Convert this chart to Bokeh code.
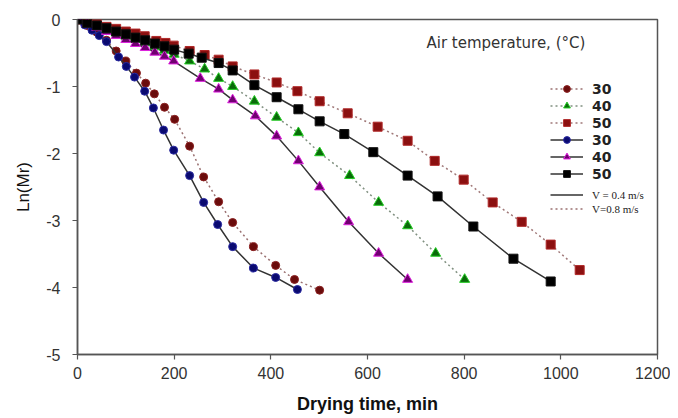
from bokeh.plotting import figure
from bokeh.models import Range1d, Legend, LegendItem, Label, FixedTicker
from bokeh.embed import file_html
from bokeh.resources import INLINE

# ---------------- data ----------------
x_ticks = [0, 200, 400, 600, 800, 1000, 1200]
y_ticks = [-5, -4, -3, -2, -1, 0]

# V = 0.8 m/s (dotted)
t_030_08 = [0, 20, 40, 60, 80, 100, 122, 141, 159, 180, 201, 232, 261, 292, 321, 364, 410, 449, 501]
v_030_08 = [0, -0.09, -0.19, -0.31, -0.47, -0.62, -0.80, -0.95, -1.11, -1.31, -1.49, -1.89, -2.35, -2.72,
            -3.03, -3.39, -3.67, -3.88, -4.04]

t_040_08 = [0, 20, 40, 60, 80, 100, 120, 140, 160, 180, 200, 232, 263, 292, 321, 366, 412, 457, 501,
            563, 623, 683, 741, 801]
v_040_08 = [0, -0.05, -0.10, -0.15, -0.20, -0.25, -0.30, -0.35, -0.41, -0.46, -0.52, -0.62, -0.74, -0.88,
            -1.00, -1.22, -1.46, -1.69, -1.99, -2.33, -2.73, -3.08, -3.49, -3.88]

t_050_08 = [0, 20, 40, 60, 80, 100, 120, 139, 163, 182, 199, 232, 263, 292, 321, 366, 412, 455, 501,
            559, 621, 683, 739, 799, 859, 919, 979, 1039]
v_050_08 = [0, -0.04, -0.07, -0.11, -0.14, -0.18, -0.21, -0.25, -0.32, -0.35, -0.39, -0.47, -0.53, -0.60,
            -0.70, -0.82, -0.94, -1.07, -1.22, -1.40, -1.60, -1.81, -2.11, -2.39, -2.73, -3.02, -3.36, -3.74]

# V = 0.4 m/s (solid)
t_030_04 = [0, 15, 30, 45, 60, 85, 101, 118, 139, 157, 178, 199, 232, 261, 290, 321, 364, 410, 455]
v_030_04 = [0, -0.08, -0.16, -0.24, -0.33, -0.56, -0.70, -0.86, -1.07, -1.32, -1.65, -1.95, -2.33, -2.73,
            -3.06, -3.39, -3.71, -3.85, -4.03]

t_040_04 = [0, 20, 40, 60, 80, 100, 120, 140, 160, 180, 199, 254, 292, 321, 368, 412, 457, 501, 561, 623, 683]
v_040_04 = [0, -0.06, -0.12, -0.18, -0.24, -0.30, -0.36, -0.42, -0.49, -0.55, -0.62, -0.88, -1.04, -1.20,
            -1.44, -1.74, -2.11, -2.50, -3.02, -3.49, -3.88]

t_050_04 = [0, 20, 40, 60, 80, 100, 120, 140, 160, 180, 200, 230, 257, 292, 321, 366, 412, 457, 501, 552,
            612, 683, 745, 819, 902, 979]
v_050_04 = [0, -0.05, -0.09, -0.13, -0.18, -0.22, -0.27, -0.31, -0.36, -0.40, -0.45, -0.51, -0.57, -0.65,
            -0.76, -0.98, -1.16, -1.34, -1.52, -1.71, -1.98, -2.33, -2.64, -3.09, -3.57, -3.91]

legend_labels = ["30", "40", "50", "30", "40", "50"]
speed_labels = ["V = 0.4 m/s", "V=0.8 m/s"]
legend_title = "Air temperature, (\u00b0C)"

# ---------------- figure ----------------
p = figure(width=670, height=416, x_range=Range1d(0, 1200), y_range=Range1d(-5, 0),
           output_backend="svg", toolbar_location=None,
           min_border_left=77, min_border_right=13, min_border_top=19, min_border_bottom=61)
p.xgrid.visible = False
p.ygrid.visible = False
p.outline_line_color = "#555555"
p.outline_line_width = 1.5
p.background_fill_color = "white"
p.border_fill_color = "white"

for ax in (p.xaxis[0], p.yaxis[0]):
    ax.axis_line_color = "#555555"
    ax.axis_line_width = 1.5
    ax.major_tick_line_color = "#555555"
    ax.major_tick_line_width = 1.2
    ax.major_tick_in = 0
    ax.major_tick_out = 5
    ax.minor_tick_line_color = None
    ax.major_label_text_font = "Liberation Sans"
    ax.major_label_text_font_size = "16px"
    ax.major_label_text_color = "#333333"
    ax.axis_label_text_font = "Liberation Sans"
    ax.axis_label_text_color = "#111111"

p.xaxis.ticker = FixedTicker(ticks=x_ticks)
p.yaxis.ticker = FixedTicker(ticks=y_ticks)
p.xaxis.major_label_overrides = {t: str(t) for t in x_ticks}
p.yaxis.major_label_overrides = {t: str(t) for t in y_ticks}
p.xaxis.major_label_standoff = 7
p.yaxis.major_label_standoff = 12

p.xaxis.axis_label = "Drying time, min"
p.xaxis.axis_label_text_font_size = "18px"
p.xaxis.axis_label_text_font_style = "bold"
p.xaxis.axis_label_standoff = 12
p.yaxis.axis_label = "Ln(Mr)"
p.yaxis.axis_label_text_font_size = "17px"
p.yaxis.axis_label_text_font_style = "normal"
p.yaxis.axis_label_standoff = 10

DOT = "2 3"


def series(t, v, dash, line_color, marker, size, fill, edge):
    lr = p.line(t, v, line_color=line_color, line_width=1.5, line_dash=dash)
    sr = p.scatter(t, v, marker=marker, size=size, fill_color=fill, line_color=edge, line_width=1)
    return lr, sr


r1 = series(t_030_08, v_030_08, DOT, "#9a7070", "circle", 8, "#6a0c0c", "#8a2020")
r2 = series(t_040_08, v_040_08, DOT, "#809080", "triangle", 10, "#0a6a0a", "#22cc22")
r3 = series(t_050_08, v_050_08, DOT, "#a07878", "square", 9, "#8b1010", "#b02828")
r4 = series(t_030_04, v_030_04, "solid", "#333333", "circle", 8, "#0a0a70", "#2a2aa0")
r5 = series(t_040_04, v_040_04, "solid", "#333333", "triangle", 10, "#700070", "#dd22dd")
r6 = series(t_050_04, v_050_04, "solid", "#333333", "square", 9, "#000000", "#111111")

common = dict(glyph_width=33, label_standoff=9, spacing=0, padding=0, margin=0,
              border_line_color=None, background_fill_alpha=0, label_text_color="#222222")

groups = [r1, r2, r3, r4, r5, r6]
items = [LegendItem(label=lab, renderers=list(g)) for lab, g in zip(legend_labels, groups)]
leg1 = Legend(items=items, location=(473, 172), glyph_height=17, label_height=17,
              label_text_font="DejaVu Sans", label_text_font_style="bold",
              label_text_font_size="14px", **common)
p.add_layout(leg1)

speed_renderers = [r4[0], r1[0]]
speed_locations = [(473, 153), (473, 139)]
for lab, rend, loc in zip(speed_labels, speed_renderers, speed_locations):
    lg = Legend(items=[LegendItem(label=lab, renderers=[rend])], location=loc,
                glyph_height=13, label_height=13, label_text_font="Liberation Serif",
                label_text_font_size="11px", **common)
    p.add_layout(lg)

title = Label(x=722, y=-0.357, text=legend_title, text_baseline="middle", text_align="left",
              text_font="DejaVu Sans", text_font_size="15px", text_color="#333333")
p.add_layout(title)

open("out.html", "w").write(file_html(p, INLINE))
